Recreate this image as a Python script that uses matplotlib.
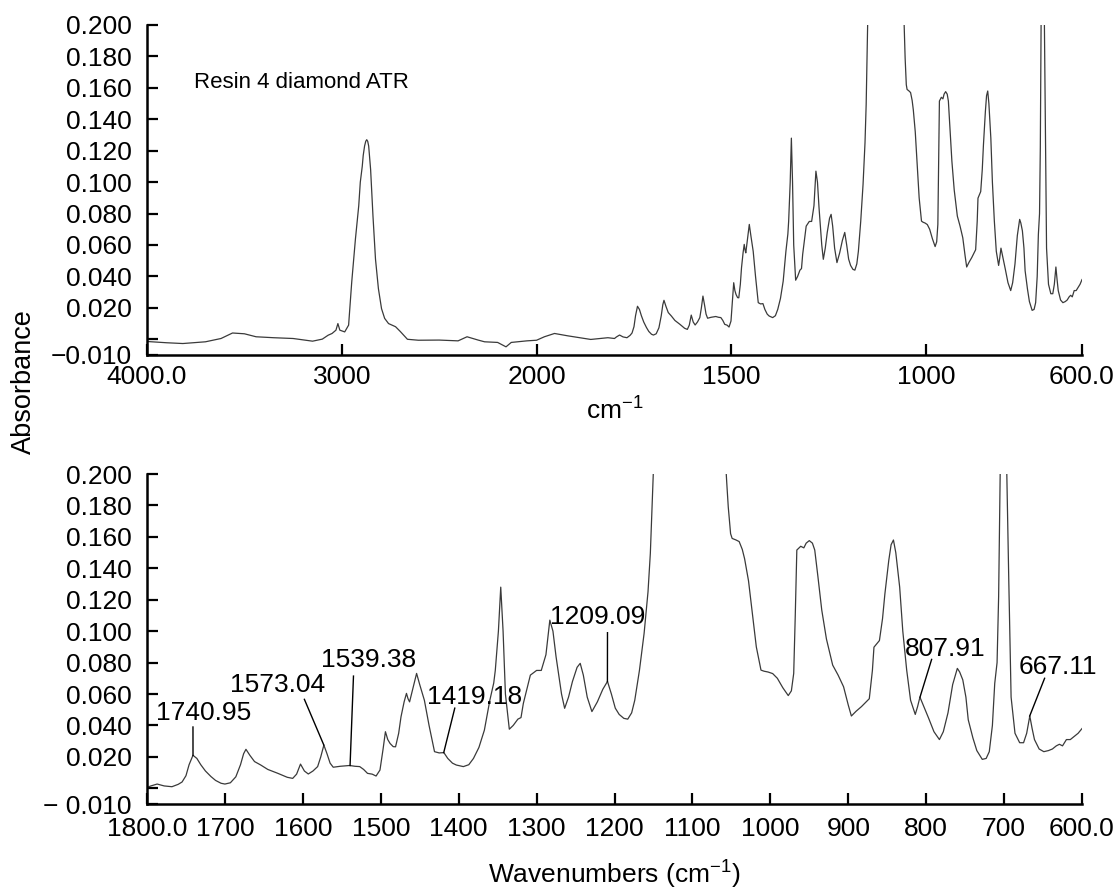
import numpy as np
import matplotlib
matplotlib.use("Agg")
import matplotlib.pyplot as plt

plt.rcParams['font.family'] = ['Liberation Sans', 'DejaVu Sans']
plt.rcParams['mathtext.default'] = 'regular'

# spectrum (wavenumber in cm-1, absorbance)
wavenumber = [
    4000, 3900, 3816, 3700, 3620, 3561, 3500, 3440, 3350, 3250, 3150, 3100,
    3070, 3050, 3030, 3020, 3010, 2985, 2965, 2949, 2930, 2913, 2905, 2895,
    2890, 2883, 2877, 2872, 2867, 2862, 2852, 2840, 2827, 2812, 2796, 2780,
    2760, 2724, 2700, 2663, 2607, 2500, 2403, 2357, 2300, 2267, 2200, 2157,
    2130, 2097, 2050, 2000, 1980, 1954, 1920, 1861, 1817,
    1800, 1795, 1787, 1778, 1768, 1760, 1755, 1750, 1746, 1741, 1736, 1731,
    1725, 1718, 1712, 1705, 1700, 1693, 1686, 1680, 1676, 1673, 1668, 1662,
    1654, 1645, 1632, 1620, 1613, 1608, 1603, 1598, 1593, 1587, 1581, 1577,
    1573, 1569, 1565, 1561, 1552, 1540, 1533, 1527, 1522, 1517, 1511, 1506,
    1501, 1497, 1494, 1491, 1488, 1484, 1481, 1477, 1474, 1470, 1467, 1465,
    1463, 1458, 1454, 1450, 1444, 1438, 1431, 1425, 1419, 1414, 1408, 1403,
    1394, 1387, 1381, 1374, 1367, 1360, 1355, 1353, 1349, 1346, 1343, 1340,
    1335, 1330, 1324, 1320, 1317, 1312, 1308, 1300, 1294, 1288, 1283, 1279,
    1275, 1268, 1264, 1259, 1254, 1248, 1244, 1240, 1235, 1229, 1222, 1215,
    1209, 1204, 1199, 1194, 1188, 1183, 1178, 1174, 1168, 1162, 1157, 1154,
    1151, 1148, 1140, 1100, 1070, 1060, 1056, 1054, 1051, 1049, 1044, 1040,
    1036, 1033, 1028, 1024, 1018, 1012, 1008, 1003, 997, 991, 984, 977,
    973, 970, 968, 966, 961, 957, 954, 950, 946, 943, 939, 934,
    928, 920, 913, 906, 900, 896, 890, 883, 877, 873, 869, 867,
    860, 856, 853, 848, 845, 842, 839, 834, 830, 825, 820, 814,
    811, 808, 803, 797, 790, 783, 778, 772, 766, 760, 757, 753,
    749, 746, 740, 735, 728, 723, 719, 715, 712, 709, 707, 705,
    704, 701, 698, 694, 691, 686, 680, 675, 671, 667, 664, 661,
    655, 649, 643, 638, 633, 629, 625, 620, 615, 610, 605, 600,
]
absorbance = [
    -0.0014, -0.0022, -0.0027, -0.0016, 0.0005, 0.0040, 0.0035, 0.0016, 0.0010, 0.0005, -0.0012, 0.0001,
    0.0026, 0.0037, 0.0058, 0.0100, 0.0058, 0.0047, 0.0090, 0.0364, 0.0638, 0.0850, 0.1000, 0.1100,
    0.1170, 0.1230, 0.1260, 0.1270, 0.1260, 0.1230, 0.1080, 0.0786, 0.0510, 0.0322, 0.0195, 0.0133,
    0.0100, 0.0080, 0.0050, 0.0000, -0.0006, -0.0005, -0.0010, 0.0016, -0.0005, -0.0016, -0.0020, -0.0048,
    -0.0020, -0.0016, -0.0010, -0.0006, 0.0016, 0.0037, 0.0022, -0.0001, 0.0010,
    0.0005, 0.0015, 0.0027, 0.0015, 0.0010, 0.0025, 0.0040, 0.0080, 0.0150, 0.0210, 0.0190, 0.0150,
    0.0110, 0.0075, 0.0050, 0.0032, 0.0027, 0.0035, 0.0073, 0.0150, 0.0220, 0.0248, 0.0210, 0.0170,
    0.0148, 0.0120, 0.0095, 0.0070, 0.0063, 0.0090, 0.0154, 0.0110, 0.0091, 0.0110, 0.0138, 0.0200,
    0.0275, 0.0220, 0.0160, 0.0134, 0.0140, 0.0145, 0.0140, 0.0138, 0.0120, 0.0095, 0.0090, 0.0078,
    0.0116, 0.0250, 0.0360, 0.0310, 0.0285, 0.0265, 0.0264, 0.0350, 0.0455, 0.0550, 0.0604, 0.0570,
    0.0550, 0.0650, 0.0731, 0.0660, 0.0560, 0.0400, 0.0233, 0.0225, 0.0227, 0.0190, 0.0160, 0.0148,
    0.0138, 0.0150, 0.0190, 0.0260, 0.0370, 0.0560, 0.0670, 0.0750, 0.1000, 0.1280, 0.1000, 0.0600,
    0.0376, 0.0400, 0.0440, 0.0450, 0.0540, 0.0640, 0.0720, 0.0750, 0.0750, 0.0850, 0.1070, 0.1000,
    0.0837, 0.0600, 0.0509, 0.0580, 0.0679, 0.0770, 0.0795, 0.0720, 0.0580, 0.0488, 0.0550, 0.0630,
    0.0680, 0.0600, 0.0510, 0.0470, 0.0445, 0.0440, 0.0480, 0.0560, 0.0750, 0.0986, 0.1250, 0.1495,
    0.1900, 0.2300, 0.4000, 0.6000, 0.3500, 0.2300, 0.1950, 0.1790, 0.1620, 0.1590, 0.1580, 0.1570,
    0.1520, 0.1460, 0.1320, 0.1150, 0.0900, 0.0752, 0.0745, 0.0740, 0.0730, 0.0700, 0.0640, 0.0590,
    0.0620, 0.0731, 0.1100, 0.1516, 0.1540, 0.1530, 0.1560, 0.1576, 0.1560, 0.1516, 0.1350, 0.1134,
    0.0950, 0.0784, 0.0720, 0.0646, 0.0530, 0.0460, 0.0490, 0.0520, 0.0550, 0.0570, 0.0750, 0.0898,
    0.0940, 0.1080, 0.1236, 0.1450, 0.1550, 0.1580, 0.1500, 0.1280, 0.1000, 0.0752, 0.0560, 0.0470,
    0.0520, 0.0580, 0.0520, 0.0448, 0.0360, 0.0310, 0.0360, 0.0480, 0.0660, 0.0763, 0.0740, 0.0690,
    0.0580, 0.0436, 0.0320, 0.0240, 0.0184, 0.0190, 0.0233, 0.0400, 0.0667, 0.0800, 0.1220, 0.2000,
    0.2400, 0.2100, 0.2400, 0.1330, 0.0580, 0.0350, 0.0290, 0.0290, 0.0350, 0.0460, 0.0380, 0.0310,
    0.0250, 0.0233, 0.0240, 0.0250, 0.0270, 0.0280, 0.0270, 0.0310, 0.0310, 0.0330, 0.0350, 0.0380,
]

# labelled peaks in the lower panel
peak_labels = ['1740.95', '1573.04', '1539.38', '1419.18', '1209.09', '807.91', '667.11']
peak_wn = [1740.95, 1573.04, 1539.38, 1419.18, 1209.09, 807.91, 667.11]
peak_abs = [0.021, 0.0275, 0.0145, 0.0227, 0.068, 0.058, 0.046]
# leader line top end and label baseline/centre
leader_wn = [1741, 1598, 1535, 1405, 1209, 793, 648]
leader_abs = [0.039, 0.0566, 0.0714, 0.051, 0.099, 0.082, 0.070]
text_wn = [1727, 1633, 1516, 1380, 1222, 776, 631]
text_abs = [0.0434, 0.0614, 0.0774, 0.0534, 0.1043, 0.0842, 0.0725]

y_ticks = [-0.010, 0.000, 0.020, 0.040, 0.060, 0.080, 0.100, 0.120, 0.140, 0.160, 0.180, 0.200]
top_xticks = [4000, 3000, 2000, 1500, 1000, 600]
top_xlabels = ['4000.0', '3000', '2000', '1500', '1000', '600.0']
bot_xticks = [1800, 1700, 1600, 1500, 1400, 1300, 1200, 1100, 1000, 900, 800, 700, 600]
bot_xlabels = ['1800.0'] + [str(t) for t in bot_xticks[1:-1]] + ['600.0']


def fwd(x):
    x = np.asarray(x, dtype=float)
    return np.where(x > 2000, 2000 + (x - 2000) / 2.0, x)


def inv(u):
    u = np.asarray(u, dtype=float)
    return np.where(u > 2000, 2000 + (u - 2000) * 2.0, u)


def style_axis(ax, minus_label, xpad):
    for s in ['top', 'right']:
        ax.spines[s].set_visible(False)
    for s in ['left', 'bottom']:
        ax.spines[s].set_linewidth(1.8)
    ax.set_ylim(-0.010, 0.200)
    ax.set_yticks(y_ticks)
    ax.set_yticklabels([minus_label, ''] + ['%.3f' % t for t in y_ticks[2:]])
    ax.tick_params(axis='both', direction='in', length=8, width=1.6, labelsize=19)
    ax.tick_params(axis='y', pad=11)
    ax.tick_params(axis='x', pad=xpad)


fig = plt.figure(figsize=(11.2, 8.9), dpi=100)
ax1 = fig.add_axes([147 / 1120, 1 - 355 / 890, 935 / 1120, 330 / 890])
ax2 = fig.add_axes([147 / 1120, 1 - 804 / 890, 935 / 1120, 330 / 890])

line_kw = dict(color='#3a3a3a', lw=0.9)

# top panel, full range with compressed scale above 2000
ax1.set_xscale('function', functions=(fwd, inv))
ax1.plot(wavenumber, absorbance, **line_kw)
ax1.set_xlim(4000, 600)
ax1.set_xticks(top_xticks)
ax1.set_xticklabels(top_xlabels)
ax1.minorticks_off()
style_axis(ax1, '\u22120.010', 7)
ax1.set_xlabel('cm$^{-1}$', fontsize=19, labelpad=6)
ax1.text(0.05, 0.825, 'Resin 4 diamond ATR', transform=ax1.transAxes,
         fontsize=16, va='center', ha='left')

# bottom panel, fingerprint region
ax2.plot(wavenumber, absorbance, **line_kw)
ax2.set_xlim(1800, 600)
ax2.set_xticks(bot_xticks)
ax2.set_xticklabels(bot_xlabels)
style_axis(ax2, '\u2212 0.010', 9)
ax2.set_xlabel('Wavenumbers (cm$^{-1}$)', fontsize=19, labelpad=13)

for lab, pw, pa, lw_, la, tw, ta in zip(peak_labels, peak_wn, peak_abs, leader_wn,
                                         leader_abs, text_wn, text_abs):
    ax2.plot([pw, lw_], [pa, la], color='black', lw=1.0)
    ax2.text(tw, ta, lab, fontsize=19, ha='center', va='baseline')

fig.text(0.021, 1 - 382 / 890, 'Absorbance', rotation=90, fontsize=19.5,
         ha='center', va='center')

fig.savefig('out.png', dpi=100)
